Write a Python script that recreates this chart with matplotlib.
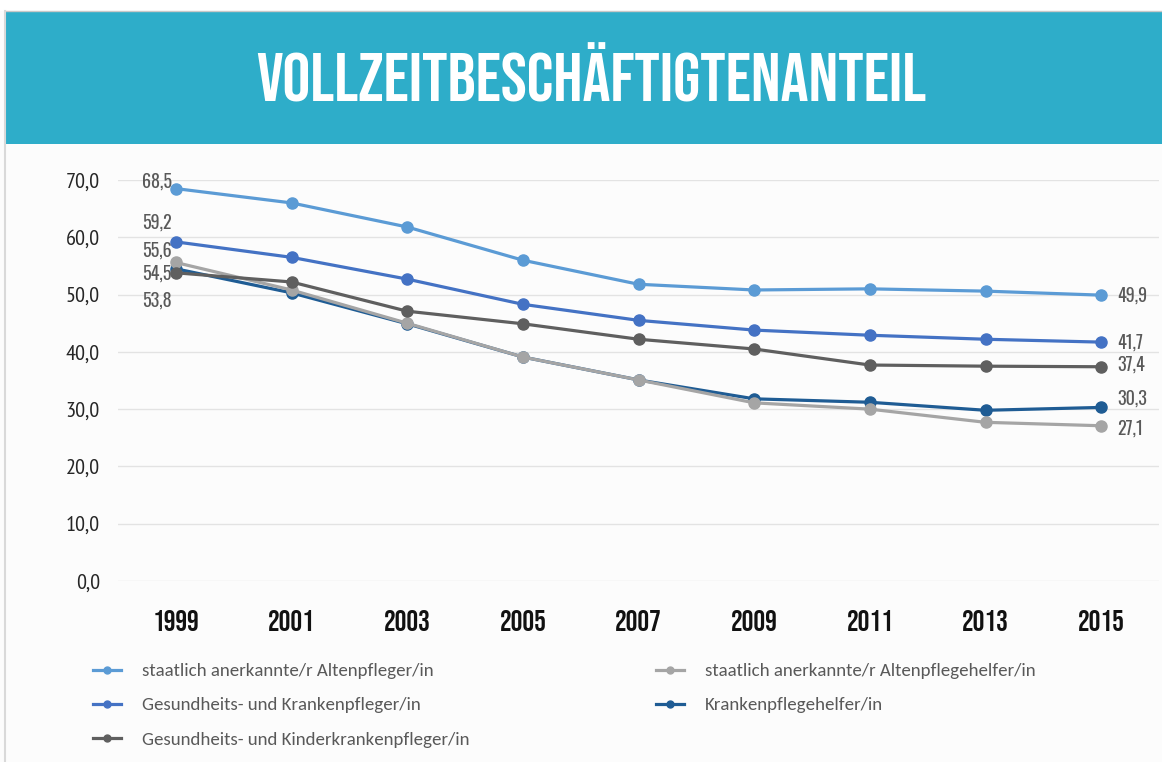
# Vollzeitbeschäftigtenanteil in Pflegeberufen, 1999-2015
import matplotlib
matplotlib.use("Agg")
import matplotlib.pyplot as plt
from matplotlib.patches import Rectangle
from matplotlib.lines import Line2D
from matplotlib import font_manager as fm

# Daten
jahre = ["1999", "2001", "2003", "2005", "2007", "2009", "2011", "2013", "2015"]
altenpfleger = [68.5, 66.0, 61.8, 56.0, 51.8, 50.8, 51.0, 50.6, 49.9]
gk_pfleger = [59.2, 56.5, 52.7, 48.3, 45.5, 43.8, 42.9, 42.2, 41.7]
gkk_pfleger = [53.8, 52.2, 47.1, 44.9, 42.2, 40.5, 37.7, 37.5, 37.4]
altenpflegehelfer = [55.6, 50.8, 45.0, 39.1, 35.1, 31.1, 30.0, 27.7, 27.1]
krankenpflegehelfer = [54.5, 50.3, 44.9, 39.1, 35.1, 31.8, 31.2, 29.8, 30.3]

namen = [
    "staatlich anerkannte/r Altenpfleger/in",
    "Gesundheits- und Krankenpfleger/in",
    "Gesundheits- und Kinderkrankenpfleger/in",
    "staatlich anerkannte/r Altenpflegehelfer/in",
    "Krankenpflegehelfer/in",
]
werte = [altenpfleger, gk_pfleger, gkk_pfleger, altenpflegehelfer, krankenpflegehelfer]
farben = ["#5B9BD5", "#4472C4", "#5F5F5F", "#A5A5A5", "#1F5C94"]
reihenfolge = [3, 4, 2, 1, 0]  # Zeichenreihenfolge wie im Original

# Versatz der Datenbeschriftungen (Pixel) am Anfang und Ende
links_off = {0: 7, 1: 19, 2: -28, 3: 12, 4: -5}
rechts_off = {0: 0, 1: 0, 2: 2, 3: -3, 4: 9}


def schriften(*namen_liste):
    # nur installierte Familien nehmen, DejaVu Sans als Rückfall
    da = {f.name for f in fm.fontManager.ttflist}
    return [n for n in namen_liste if n in da] + ["DejaVu Sans"]


titel_font = schriften("Bebas Neue", "Oswald", "Roboto Condensed")
jahr_font = schriften("Bebas Neue", "Oswald", "Roboto Condensed")
zahl_font = schriften("Oswald", "Roboto Condensed")
achse_font = schriften("Arial Narrow", "Liberation Sans Narrow", "PT Sans Narrow",
                       "Archivo Narrow", "Roboto Condensed")
leg_font = schriften("Carlito", "Calibri", "Lato")
textgrau = "#595959"

fig = plt.figure(figsize=(11.62, 7.62), dpi=100, facecolor="#FCFCFC")
W, H = 1162, 762

# weißer Streifen oben, Banner, Rahmenlinien
fig.patches.append(Rectangle((0, 1 - 11 / H), 1, 11 / H, transform=fig.transFigure,
                             facecolor="white", edgecolor="none", zorder=0))
fig.patches.append(Rectangle((5 / W, 1 - 144 / H), 1, 133 / H, transform=fig.transFigure,
                             facecolor="#2EADC9", edgecolor="none", zorder=1))
fig.lines.append(Line2D([5 / W, 1], [1 - 11 / H] * 2, transform=fig.transFigure,
                        color="#C8C8C8", lw=1))
fig.lines.append(Line2D([5 / W, 5 / W], [0, 1 - 11 / H], transform=fig.transFigure,
                        color="#D9D9D9", lw=1.5))
fig.text(591 / W, 1 - 72 / H, "VOLLZEITBESCHÄFTIGTENANTEIL", color="white",
         fontsize=50, family=titel_font, ha="center", va="center")

ax = fig.add_axes([118 / W, 1 - 581 / H, (1159 - 118) / W, (581 - 180) / H])
ax.set_facecolor("none")
x = list(range(len(jahre)))

for i in reihenfolge:
    ax.plot(x, werte[i], color=farben[i], lw=2.3, marker="o", ms=8,
            label=namen[i], zorder=3 + (4 - i) * 0.1)
    ax.annotate(f"{werte[i][0]:.1f}".replace(".", ","), (x[0], werte[i][0]),
                xytext=(-4, links_off[i]), textcoords="offset pixels",
                ha="right", va="center", fontsize=13, color=textgrau, family=zahl_font)
    ax.annotate(f"{werte[i][-1]:.1f}".replace(".", ","), (x[-1], werte[i][-1]),
                xytext=(16, rechts_off[i]), textcoords="offset pixels",
                ha="left", va="center", fontsize=13, color=textgrau, family=zahl_font)

ax.set_xlim(-0.5, len(jahre) - 0.5)
ax.set_ylim(0, 70)
ax.set_yticks(range(0, 71, 10))
ax.set_yticklabels([f"{v},0" for v in range(0, 71, 10)], fontsize=16,
                   color="#262626", family=achse_font)
ax.set_xticks(x)
ax.set_xticklabels(jahre, fontsize=21, color="#111111", family=jahr_font)
ax.tick_params(axis="both", length=0)
ax.tick_params(axis="y", pad=13)
ax.tick_params(axis="x", pad=21)
ax.grid(axis="y", color="#E3E3E3", lw=1)
ax.set_axisbelow(True)
for s in ax.spines.values():
    s.set_visible(False)

# Legende in zwei Spalten
leg_kw = dict(frameon=False, labelcolor=textgrau, handlelength=1.5, handletextpad=1.1,
              labelspacing=0.95, prop={"family": leg_font, "size": 13.6})
h1 = [Line2D([], [], color=farben[i], lw=2.3, marker="o", ms=5) for i in range(3)]
h2 = [Line2D([], [], color=farben[i], lw=2.3, marker="o", ms=5) for i in range(3, 5)]
fig.legend(h1, namen[:3], loc="upper left", bbox_to_anchor=(76 / W, 1 - 646 / H), **leg_kw)
fig.legend(h2, namen[3:], loc="upper left", bbox_to_anchor=(639 / W, 1 - 646 / H), **leg_kw)

fig.savefig("out.png", dpi=100, facecolor=fig.get_facecolor())
